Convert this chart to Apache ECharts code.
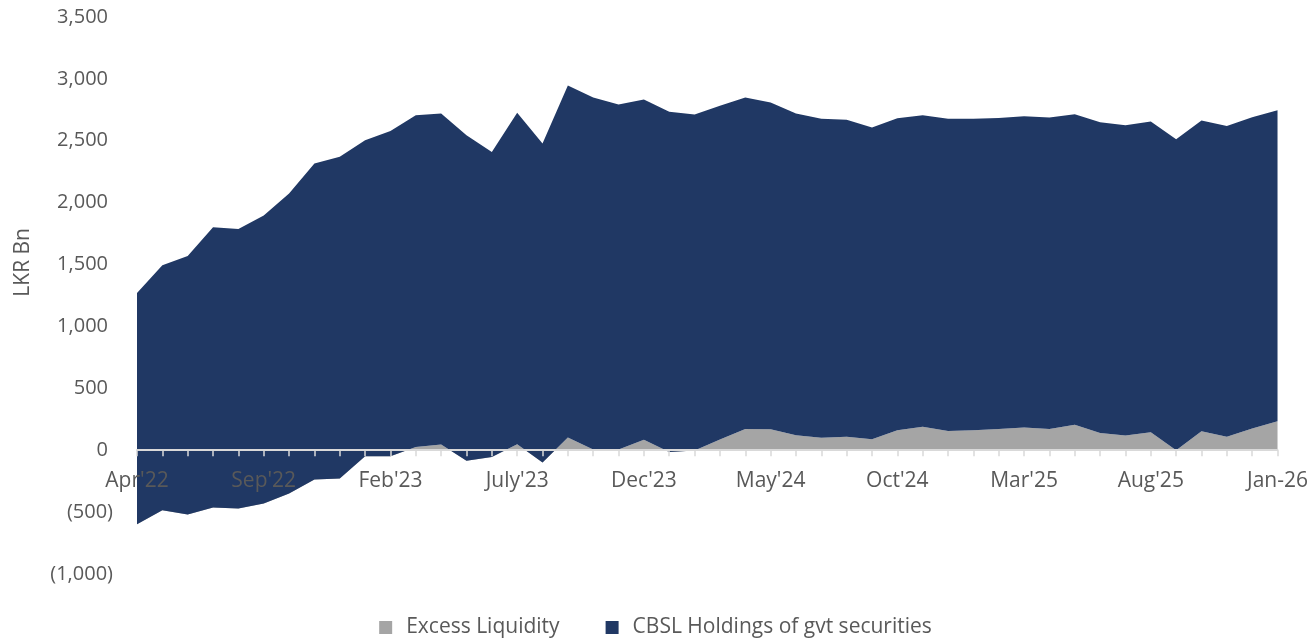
<!DOCTYPE html>
<html>
<head>
<meta charset="utf-8">
<script src="https://cdn.jsdelivr.net/npm/echarts@6/dist/echarts.min.js"></script>
<style>
html,body{margin:0;padding:0;background:#fff;}
#chart{width:1311px;height:641px;}
</style>
</head>
<body>
<div id="chart"></div>
<script>
const categories = [
  "Apr'22","May'22","Jun'22","Jul'22","Aug'22","Sep'22","Oct'22","Nov'22","Dec'22","Jan'23",
  "Feb'23","Mar'23","Apr'23","May'23","Jun'23","July'23","Aug'23","Sep'23","Oct'23","Nov'23",
  "Dec'23","Jan'24","Feb'24","Mar'24","Apr'24","May'24","Jun'24","Jul'24","Aug'24","Sep'24",
  "Oct'24","Nov'24","Dec'24","Jan'25","Feb'25","Mar'25","Apr'25","May'25","Jun'25","Jul'25",
  "Aug'25","Sep'25","Oct'25","Nov'25","Dec'25","Jan-26"
];
const excessLiquidity = [
  -598,-485,-520,-463,-471,-431,-350,-237,-229,-48,
  -48,27,46,-86,-54,48,-100,102,5,5,
  84,-14,-2,86,172,170,121,100,108,89,
  162,189,156,162,172,183,172,205,140,119,
  145,0,154,108,175,234
];
const cbslHoldings = [
  1869,1980,2090,2265,2259,2327,2424,2553,2599,2553,
  2626,2680,2674,2631,2464,2678,2578,2845,2845,2788,
  2749,2748,2714,2696,2678,2639,2599,2577,2561,2518,
  2520,2518,2521,2515,2513,2516,2516,2510,2510,2507,
  2511,2513,2510,2512,2516,2513
];
const yTicks = { min: -1000, max: 3500, interval: 500 };

const FONT = "'Open Sans', 'Noto Sans', sans-serif";
const TXT = '#595959';

function fmt(v) {
  const s = Math.abs(v).toLocaleString('en-US');
  return v < 0 ? '(' + s + ')' : s + '{sp|}';
}

const W = 1311, H = 641;
const grid = { left: 137, right: 31, top: 17, bottom: 67 };
const gridH = H - grid.top - grid.bottom;
// place the category axis at the value 0 of the y scale
const zeroOffset = -gridH * (0 - yTicks.min) / (yTicks.max - yTicks.min);

const chart = echarts.init(document.getElementById('chart'));
chart.setOption({
  animation: false,
  backgroundColor: '#ffffff',
  textStyle: { fontFamily: FONT },
  grid: grid,
  legend: {
    top: 612,
    left: 'center',
    itemWidth: 13,
    itemHeight: 13,
    itemGap: 46,
    icon: 'rect',
    textStyle: { color: TXT, fontSize: 21, fontFamily: FONT, padding: [0, 0, 0, 9] },
    data: ['Excess Liquidity', 'CBSL Holdings of gvt securities']
  },
  xAxis: {
    type: 'category',
    data: categories,
    boundaryGap: false,
    position: 'bottom',
    offset: zeroOffset,
    axisLine: { onZero: false, lineStyle: { color: '#d9d9d9', width: 2 } },
    axisTick: { show: true, interval: 0, length: 6, lineStyle: { color: '#d9d9d9', width: 1.5 } },
    axisLabel: { interval: 4, color: TXT, fontSize: 21, margin: 20, fontFamily: FONT },
    splitLine: { show: false },
    z: 10
  },
  yAxis: {
    type: 'value',
    min: yTicks.min,
    max: yTicks.max,
    interval: yTicks.interval,
    axisLine: { show: false },
    axisTick: { show: false },
    splitLine: { show: false },
    axisLabel: {
      color: TXT, fontSize: 20, margin: 24, formatter: fmt, fontFamily: FONT,
      rich: { sp: { width: 5 } }
    }
  },
  graphic: [{
    type: 'text',
    left: 13,
    top: 228,
    rotation: Math.PI / 2,
    style: { text: 'LKR Bn', fill: TXT, font: "21px " + FONT }
  }],
  series: [
    {
      name: 'Excess Liquidity',
      type: 'line',
      stack: 'total',
      stackStrategy: 'all',
      data: excessLiquidity,
      showSymbol: false,
      symbol: 'none',
      lineStyle: { width: 0 },
      itemStyle: { color: '#a5a5a5' },
      areaStyle: { color: '#a5a5a5', opacity: 1 },
      z: 2
    },
    {
      name: 'CBSL Holdings of gvt securities',
      type: 'line',
      stack: 'total',
      stackStrategy: 'all',
      data: cbslHoldings,
      showSymbol: false,
      symbol: 'none',
      lineStyle: { width: 0 },
      itemStyle: { color: '#203864' },
      areaStyle: { color: '#203864', opacity: 1 },
      z: 3
    }
  ]
});
</script>
</body>
</html>
